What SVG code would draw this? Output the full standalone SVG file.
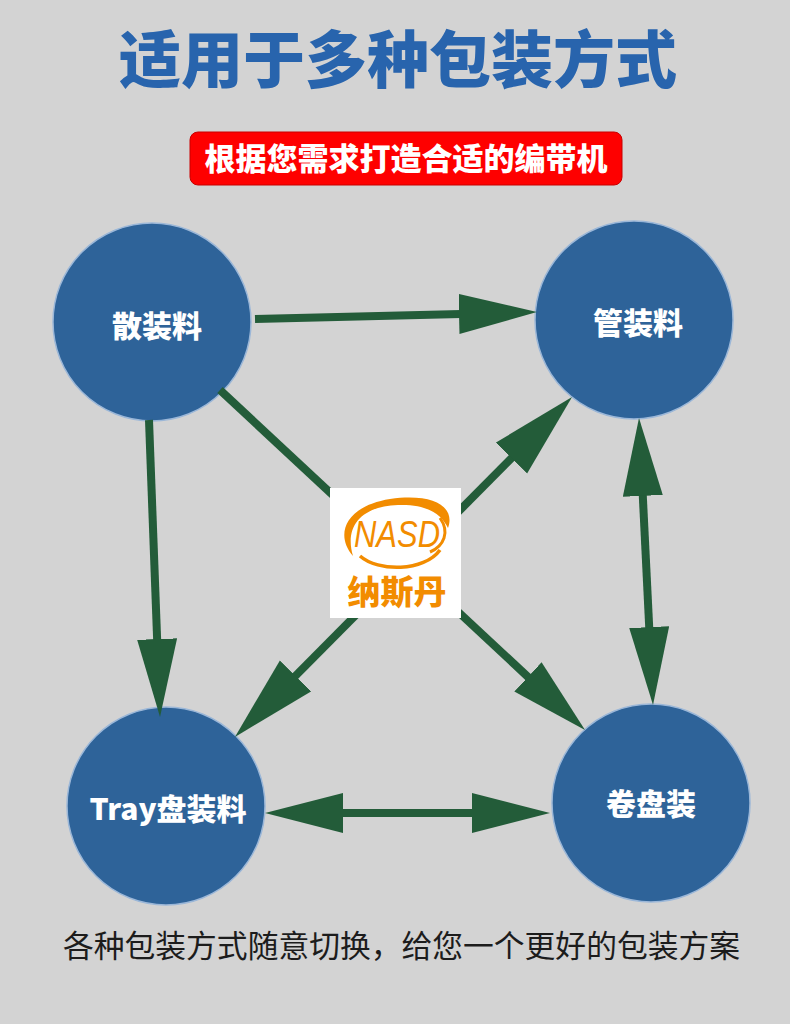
<svg xmlns="http://www.w3.org/2000/svg" width="790" height="1024" viewBox="0 0 790 1024">
<style>
.cjk{font-family:"Noto Sans CJK SC","Noto Sans",sans-serif}
.title{font-size:62px;font-weight:900;fill:#2864ad}
.sub{font-size:31px;font-weight:900;fill:#ffffff}
.node circle{fill:#2e6399;stroke:#9bb7d8;stroke-width:1.5}
.node text{font-size:30px;font-weight:900;fill:#ffffff;text-anchor:middle}
.conn line{stroke:#235c39;stroke-width:8}
.foot{font-size:30.5px;font-weight:400;fill:#1c1c1c}
.logo{fill:#f28c00}
</style>
<defs>
<marker id="ah" markerUnits="userSpaceOnUse" markerWidth="80" markerHeight="42" viewBox="0 0 80 42" refX="2" refY="20" orient="auto-start-reverse">
<path d="M0,0 L78,20 L0,40 Z" fill="#235c39"/>
</marker>
<marker id="ahL" markerUnits="userSpaceOnUse" markerWidth="88" markerHeight="46" viewBox="0 0 88 46" refX="2" refY="22" orient="auto-start-reverse">
<path d="M0,0 L86,22 L0,44 Z" fill="#235c39"/>
</marker>
</defs>
<rect x="0" y="0" width="790" height="1024" fill="#d3d3d3"/>

<text class="cjk title" x="398" y="83" text-anchor="middle">适用于多种包装方式</text>

<g id="banner">
<rect x="190" y="132" width="432" height="53" rx="8" fill="#fe0000" stroke="#c80000" stroke-width="1"/>
<text class="cjk sub" x="406" y="170" text-anchor="middle">根据您需求打造合适的编带机</text>
</g>

<g id="node-bulk" class="node cjk">
<circle cx="152" cy="322" r="99"/>
<text x="157" y="337">散装料</text>
</g>
<g id="node-tube" class="node cjk">
<circle cx="634" cy="320" r="99"/>
<text x="638" y="334">管装料</text>
</g>
<g id="node-tray" class="node cjk">
<circle cx="166" cy="806" r="99"/>
<text x="168" y="820">Tray盘装料</text>
</g>
<g id="node-reel" class="node cjk">
<circle cx="651" cy="803" r="99"/>
<text x="651" y="815">卷盘装</text>
</g>

<g id="connectors" class="conn">
<line x1="255" y1="319" x2="461" y2="313.9" marker-end="url(#ah)"/>
<line x1="149" y1="420" x2="157.2" y2="641.1" marker-end="url(#ah)"/>
<line x1="642.7" y1="493.9" x2="649.3" y2="629.1" marker-start="url(#ah)" marker-end="url(#ah)"/>
<line x1="220" y1="390" x2="529.4" y2="678.2" marker-end="url(#ah)"/>
<line x1="294.1" y1="677.3" x2="512.9" y2="456.7" marker-start="url(#ahL)" marker-end="url(#ahL)"/>
<line x1="341" y1="813" x2="474" y2="813" marker-start="url(#ah)" marker-end="url(#ah)"/>
</g>

<g id="logo">
<rect x="330" y="488" width="131" height="130" fill="#ffffff"/>
<path class="logo" d="M353,556 C334,534 346,506 390,499 C432,493 456,506 448,528 C442,516 430,504 398,505 C362,506 344,526 353,556 Z"/>
<path d="M360,556 C378,572 424,572 440,550" fill="none" stroke="#f28c00" stroke-width="3.5"/>
<path d="M440,518 C450,532 444,546 430,552" fill="none" stroke="#f28c00" stroke-width="3"/>
<text x="354" y="547" font-family="'Liberation Sans',sans-serif" font-style="italic" font-size="36" fill="#f28c00" textLength="86" lengthAdjust="spacingAndGlyphs">NASD</text>
<text class="cjk" x="397" y="604" text-anchor="middle" font-size="33" font-weight="900" fill="#f28c00">纳斯丹</text>
</g>

<text class="cjk foot" x="401.5" y="957" text-anchor="middle" textLength="677" lengthAdjust="spacingAndGlyphs">各种包装方式随意切换，给您一个更好的包装方案</text>
</svg>
